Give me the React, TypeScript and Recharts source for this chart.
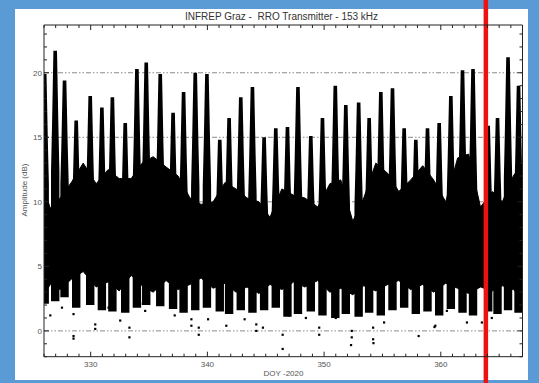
import { Area, Bar, CartesianGrid, ComposedChart, ReferenceLine, Scatter, XAxis, YAxis } from "recharts";

// Nightly maxima: one column per night, its top and bottom (dB)
const peakDoy = [
  326.1, 327.0, 327.8, 328.8, 330.0, 331.0, 331.9, 333.0, 334.0, 334.8,
  336.0, 337.1, 338.0, 339.0, 340.0, 341.1, 341.9, 342.9, 343.9, 344.9,
  345.9, 346.9, 347.8, 348.9, 349.9, 351.0, 351.9, 353.0, 353.9, 354.9,
  355.9, 356.9, 357.9, 358.9, 359.9, 360.9, 361.9, 362.8, 364.1, 364.9,
  365.8, 366.7,
];
const peakHigh = [
  19.9, 21.7, 19.4, 16.3, 18.2, 17.3, 18.1, 16.1, 20.3, 20.8,
  19.9, 16.9, 18.5, 20.0, 19.9, 14.8, 16.5, 18.1, 18.9, 15.0,
  15.7, 15.8, 18.9, 15.1, 16.5, 19.0, 17.5, 17.7, 16.5, 18.5,
  18.8, 15.7, 14.8, 15.7, 16.1, 18.2, 20.2, 20.3, 15.9, 16.5,
  21.2, 19.0,
];
const peakLow = [
  2.1, 2.3, 2.6, 1.8, 2.0, 1.6, 1.5, 1.4, 1.8, 2.0,
  1.9, 1.7, 1.4, 1.6, 1.8, 1.5, 1.3, 1.6, 1.4, 1.6,
  1.8, 1.1, 1.3, 1.5, 1.2, 1.0, 1.3, 1.1, 1.4, 1.2,
  1.6, 1.8, 1.3, 1.5, 1.2, 1.7, 1.4, 1.2, 1.5, 1.3,
  1.6, 1.4,
];

// Daytime between the columns: top and bottom of the dense band (dB)
const gapDoy = [
  326.0, 326.54, 327.39, 328.34, 329.36, 330.47, 331.5, 332.44, 333.47, 334.41, 335.35,
  336.46, 337.49, 338.51, 339.46, 340.49, 341.51, 342.45, 343.39, 344.42, 345.36,
  346.38, 347.41, 348.35, 349.46, 350.49, 351.43, 352.46, 353.4, 354.43, 355.46,
  356.4, 357.42, 358.45, 359.39, 360.42, 361.44, 362.38, 363.4, 364.42, 365.27,
  366.21, 367.0,
];
const gapHigh = [
  11.0, 9.5, 10.3, 11.5, 13.0, 11.4, 12.5, 11.8, 11.8, 13.0, 13.5,
  12.7, 12.0, 10.3, 9.8, 10.0, 11.5, 11.0, 10.3, 10.0, 8.8,
  11.0, 10.5, 10.3, 9.6, 11.4, 11.7, 8.5, 10.3, 13.0, 12.2,
  10.8, 11.7, 12.8, 11.7, 10.0, 13.4, 13.7, 9.6, 10.8, 10.0,
  12.0, 13.0,
];
const gapLow = [
  2.8, 3.6, 3.2, 4.0, 4.6, 3.4, 3.8, 3.1, 4.3, 3.5, 3.0,
  3.9, 3.2, 3.6, 4.1, 3.3, 3.7, 3.0, 3.4, 2.9, 3.6,
  3.2, 3.8, 3.4, 3.9, 3.0, 3.3, 2.8, 3.5, 3.1, 3.6,
  3.9, 3.2, 3.6, 3.0, 3.7, 3.3, 2.9, 3.4, 3.1, 3.5,
  3.2, 2.6,
];

// Isolated low samples below the band
const outlierDoy = [
  326.54, 327.54, 328.53, 328.53, 328.53, 330.39, 330.39, 331.53, 332.53, 333.32,
  333.32, 334.24, 334.67, 337.2, 338.63, 338.63, 339.26, 339.26, 340.06, 341.62,
  343.19, 344.19, 344.19, 344.76, 346.45, 346.45, 347.0, 348.44, 349.58, 349.58,
  351.0, 352.37, 352.31, 352.37, 354.2, 354.23, 354.2, 355.14, 358.1, 359.46,
  359.53, 360.52, 362.24, 363.52, 364.37,
];
const outlierDb = [
  1.2, 1.8, 1.3, -0.4, -0.6, 0.5, 0.15, 1.8, 0.8, 0.25,
  -0.5, 2.1, 1.55, 1.2, 0.4, 0.9, -0.3, 0.25, 0.9, 0.4,
  0.9, 0.5, 0.0, 0.25, -0.3, -1.4, 1.2, 1.0, -0.3, 0.25,
  1.0, 0.0, -1.1, -0.5, 0.25, -0.95, -0.65, 0.65, -0.4, 0.3,
  0.4, 1.55, 0.65, 0.65, 1.0,
];

const xDomain = [326, 367];
const yDomain = [-2, 23.7];
const yGridValues = [0, 5, 10, 15, 20];
const markerDoy = 363.86;

const columns = peakDoy.map((doy, i) => ({ doy, span: [peakLow[i], peakHigh[i]] }));
const band = gapDoy.map((doy, i) => ({ doy, range: [gapLow[i], gapHigh[i]] }));
const outliers = outlierDoy.map((doy, i) => ({ doy, db: outlierDb[i] }));

// one tick per day / per dB, labels only on the round ones
const xTicks = Array.from({ length: 42 }, (_, i) => 326 + i);
const yTicks = Array.from({ length: 26 }, (_, i) => i - 2);

const PLOT_W = 478.5;
const PLOT_H = 331.7;
const AXIS = "#222";
const LABEL = "#555";
const FONT = "'Liberation Sans', Arial, sans-serif";

// bottom ticks also mirror onto the top edge of the frame
const BottomTick = ({ x, y, payload }: any) => {
  const major = payload.value % 10 === 0;
  const len = major ? 5 : 3;
  return (
    <g>
      <line x1={x} x2={x} y1={y} y2={y - len} stroke={AXIS} />
      <line x1={x} x2={x} y1={y - PLOT_H} y2={y - PLOT_H + len} stroke={AXIS} />
      {major && (
        <text x={x} y={y + 10} textAnchor="middle" fontSize={8} fill={LABEL} fontFamily={FONT}>
          {payload.value}
        </text>
      )}
    </g>
  );
};

// left ticks also mirror onto the right edge of the frame
const LeftTick = ({ x, y, payload }: any) => {
  const major = payload.value % 5 === 0;
  const len = major ? 5 : 3;
  return (
    <g>
      <line x1={x} x2={x + len} y1={y} y2={y} stroke={AXIS} />
      <line x1={x + PLOT_W} x2={x + PLOT_W - len} y1={y} y2={y} stroke={AXIS} />
      {major && (
        <text x={x - 2} y={y + 3} textAnchor="end" fontSize={8} fill={LABEL} fontFamily={FONT}>
          {payload.value}
        </text>
      )}
    </g>
  );
};

// a night column: wide low down, thinning towards its maximum
const Column = ({ x, y, width, height }: any) => {
  if (!height || !isFinite(x)) return null;
  const cx = x + width / 2;
  const pts = [
    [cx - 1.8, y],
    [cx + 1.8, y],
    [cx + 3.2, y + height * 0.3],
    [x + width, y + height * 0.48],
    [x + width, y + height],
    [x, y + height],
    [x, y + height * 0.48],
    [cx - 3.2, y + height * 0.3],
  ];
  return <polygon points={pts.map((p) => p.join(",")).join(" ")} fill="#000" />;
};

const SampleDot = ({ cx, cy }: any) => <rect x={cx - 1.1} y={cy - 1.1} width={2.2} height={2.2} fill="#000" />;

export default function App() {
  return (
    <div style={{ position: "absolute", left: 0, top: 0, width: 539, height: 383, background: "#5b9bd5" }}>
      <div style={{ position: "absolute", left: 15, top: 9, width: 513, height: 371, background: "#fff" }} />
      <div
        style={{
          position: "absolute",
          left: 0,
          width: 539,
          top: 10,
          textAlign: "center",
          paddingLeft: 24,
          boxSizing: "border-box",
          fontFamily: FONT,
          fontSize: 10,
          color: "#333",
          lineHeight: "13px",
        }}
      >
        INFREP Graz -&nbsp; RRO Transmitter - 153 kHz
      </div>
      <div
        style={{
          position: "absolute",
          left: 0,
          width: 539,
          top: 369,
          textAlign: "center",
          paddingLeft: 28,
          boxSizing: "border-box",
          fontFamily: FONT,
          fontSize: 8,
          color: LABEL,
          lineHeight: "10px",
        }}
      >
        DOY -2020
      </div>
      <div
        style={{
          position: "absolute",
          left: 25,
          top: 190,
          transform: "translate(-50%, -50%) rotate(-90deg)",
          whiteSpace: "nowrap",
          fontFamily: FONT,
          fontSize: 8,
          color: LABEL,
          lineHeight: "10px",
        }}
      >
        Amplitude (dB)
      </div>
      <div style={{ position: "absolute", left: 0, top: 0 }}>
        <ComposedChart
          width={539}
          height={383}
          data={columns}
          margin={{ top: 24, right: 15.5, bottom: 0, left: 0 }}
        >
          <CartesianGrid
            vertical={false}
            horizontalValues={yGridValues}
            stroke="#8a8a8a"
            strokeDasharray="5 2 1.5 2 1.5 2"
          />
          <XAxis
            dataKey="doy"
            type="number"
            domain={xDomain}
            allowDataOverflow
            ticks={xTicks}
            interval={0}
            height={26.3}
            tickSize={0}
            tickMargin={0}
            tickLine={false}
            stroke={AXIS}
            tick={<BottomTick />}
          />
          <XAxis
            xAxisId="top"
            dataKey="doy"
            orientation="top"
            type="number"
            domain={xDomain}
            allowDataOverflow
            height={1}
            tickLine={false}
            tick={false}
            stroke={AXIS}
          />
          <YAxis
            type="number"
            domain={yDomain}
            allowDataOverflow
            ticks={yTicks}
            interval={0}
            width={44}
            tickSize={0}
            tickMargin={0}
            tickLine={false}
            stroke={AXIS}
            tick={<LeftTick />}
          />
          <YAxis
            yAxisId="right"
            orientation="right"
            type="number"
            domain={yDomain}
            allowDataOverflow
            width={1}
            tickLine={false}
            tick={false}
            stroke={AXIS}
          />
          <Area
            data={band}
            dataKey="range"
            type="linear"
            fill="#000"
            fillOpacity={1}
            stroke="#000"
            strokeWidth={1}
            dot={false}
            activeDot={false}
            isAnimationActive={false}
          />
          <Bar xAxisId="top" dataKey="span" barSize={10} shape={<Column />} isAnimationActive={false} />
          <Scatter data={outliers} dataKey="db" shape={<SampleDot />} isAnimationActive={false} />
          <ReferenceLine
            x={markerDoy}
            ifOverflow="visible"
            shape={(p: any) => (
              <line x1={p.x1} x2={p.x2} y1={0} y2={383} stroke="#ee1111" strokeWidth={4.5} />
            )}
          />
        </ComposedChart>
      </div>
    </div>
  );
}
